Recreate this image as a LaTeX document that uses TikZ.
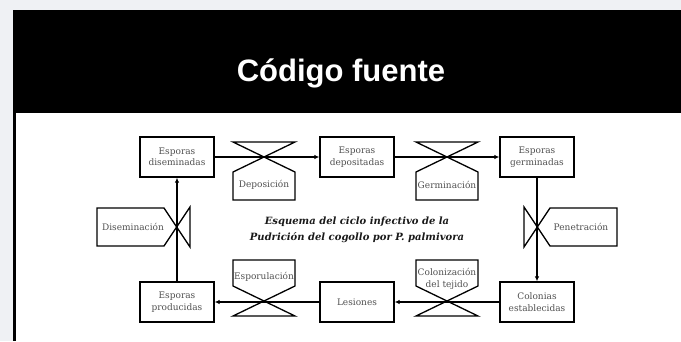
\documentclass[tikz,border=0pt]{standalone}
\usepackage{fontspec}
\setmainfont{DejaVu Serif}
\newfontfamily\headfont{Liberation Sans}
\usetikzlibrary{arrows.meta}

\definecolor{PageGrey}{HTML}{EFF1F4}
\definecolor{LabelGrey}{HTML}{505050}
\definecolor{TitleInk}{HTML}{1A1A1A}

\tikzstyle{stock}=[draw, line width=1.3pt, fill=white, minimum width=74pt, minimum height=40pt, inner sep=0pt, align=center, text=LabelGrey, font=\fontsize{9}{11.5}\selectfont]
\tikzstyle{rate}=[inner sep=0pt, align=center, text=LabelGrey, font=\fontsize{9}{12.5}\selectfont]
\tikzstyle{valve}=[line width=1.3pt, line join=miter]
\tikzstyle{flow}=[line width=1.3pt, -{Latex[length=5pt,width=4.5pt]}]

\begin{document}
\begin{tikzpicture}[x=1pt, y=-1pt]
      % fondo y cabecera
      \fill[PageGrey] (0,0) rectangle (681,341);
      \fill[black] (13,10) rectangle (681,113);
      \fill[white] (16,113) rectangle (681,341);
      \fill[black] (13,113) rectangle (16,341);
      \node (head-title) at (341,81) [anchor=base, text=white, font=\headfont\bfseries\fontsize{31}{36}\selectfont] {Código fuente};

      % niveles
      \node (stock-dis) at (177,157) [stock] {Esporas\\diseminadas};
      \node (stock-dep) at (357,157) [stock] {Esporas\\depositadas};
      \node (stock-ger) at (537,157) [stock] {Esporas\\germinadas};
      \node (stock-col) at (537,302) [stock] {Colonias\\establecidas};
      \node (stock-les) at (357,302) [stock] {Lesiones};
      \node (stock-pro) at (177,302) [stock] {Esporas\\producidas};

      % flujos
      \draw[flow] (stock-dis) -- (stock-dep);
      \draw[flow] (stock-dep) -- (stock-ger);
      \draw[flow] (stock-ger) -- (stock-col);
      \draw[flow] (stock-col) -- (stock-les);
      \draw[flow] (stock-les) -- (stock-pro);
      \draw[flow] (stock-pro) -- (stock-dis);

      % valvulas
      \draw[valve, shift={(264,157)}] (-31,-15) -- (31,-15) -- (-31,15) -- (-31,43) -- (31,43) -- (31,15) -- cycle;
      \draw[valve, shift={(447,157)}] (-31,-15) -- (31,-15) -- (-31,15) -- (-31,43) -- (31,43) -- (31,15) -- cycle;
      \draw[valve, shift={(264,302)}] (-31,14) -- (31,14) -- (-31,-16) -- (-31,-42) -- (31,-42) -- (31,-16) -- cycle;
      \draw[valve, shift={(447,302)}] (-31,14) -- (31,14) -- (-31,-16) -- (-31,-42) -- (31,-42) -- (31,-16) -- cycle;
      \draw[valve, shift={(177,227)}] (13,-20) -- (13,20) -- (-13,-19) -- (-80,-19) -- (-80,19) -- (-13,19) -- cycle;
      \draw[valve, shift={(537,227)}] (-13,-20) -- (-13,20) -- (13,-19) -- (80,-19) -- (80,19) -- (13,19) -- cycle;

      \node (rate-depo) at (264,185) [rate] {Deposición};
      \node (rate-germ) at (447,185) [rate] {Germinación};
      \node (rate-pene) at (581,227) [rate] {Penetración};
      \node (rate-colo) at (447,279) [rate] {Colonización\\del tejido};
      \node (rate-espo) at (264,277) [rate] {Esporulación};
      \node (rate-dise) at (133,227) [rate] {Diseminación};

      \node (title-cycle) at (357,230) [align=center, text=TitleInk, font=\bfseries\itshape\fontsize{10}{15.5}\selectfont] {Esquema del ciclo infectivo de la\\Pudrición del cogollo por P. palmivora};
\end{tikzpicture}
\end{document}
